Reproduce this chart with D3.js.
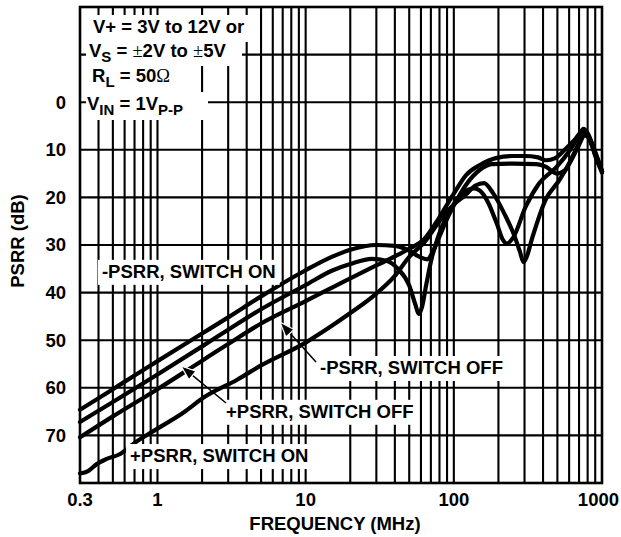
<!DOCTYPE html>
<html>
<head>
<meta charset="utf-8">
<script src="https://cdn.jsdelivr.net/npm/d3@7"></script>
<style>
  body { margin: 0; background: #fff; }
  svg text { font-family: "Liberation Sans", Arial, sans-serif; font-weight: bold; font-size: 18.5px; fill: #000; }
</style>
</head>
<body>
<svg id="chart" width="621" height="537"></svg>
<script>
// axis ticks
var FREQ_TICKS = [0.3, 1, 10, 100, 1000];
var FREQ_LABELS = ["0.3", "1", "10", "100", "1000"];
var PSRR_TICKS = [0, 10, 20, 30, 40, 50, 60, 70];

// curves, [MHz, dB]
var MINUS_ON = [[0.3,64.6],[0.4,62.2],[0.5,60.3],[0.7,57.4],[1,54.4],[2,48.6],[3,45.2],[5,40.8],[10,35.3],[15,32.5],
  [20,31.0],[30,30.0],[40,30.2],[50,31.2],[58,32.4],[66,33.0],[72,31.5],[80,28.2],[90,24.5],[105,20.5],[120,17.5],
  [150,14.2],[180,13.0],[250,12.9],[360,13.0],[420,13.6],[494,15.0],[560,14.3],[630,11.5],[700,8.5],[760,6.8],
  [820,7.5],[900,11],[1000,14.8]];
var PLUS_OFF = [[0.3,67.2],[0.5,63.0],[1,57.2],[2,51.3],[3,47.8],[5,43.5],[10,38.4],[15,35.4],[20,34.0],[28,32.9],
  [35,33.3],[42,35.0],[50,38.5],[55,42.5],[58,44.5],[61,43],[65,38.5],[70,33.5],[80,27.5],[95,22.5],[110,19.7],
  [125,18.4],[137,18.1],[150,18.6],[170,21],[195,25.5],[215,29],[227,29.7],[252,28.4],[305,22],[376,17.1],
  [494,13.6],[607,10.1],[700,7],[750,5.6],[800,6.5],[900,10.5],[1000,14.5]];
var MINUS_OFF = [[0.3,70.4],[0.5,66],[1,60.3],[2,54.3],[3,50.8],[5,46.5],[10,41.8],[20,37.0],[30,34.3],[40,32.4],
  [50,30.8],[63,28.8],[77,25],[90,21.5],[100,19.2],[121,15.3],[150,13.2],[195,11.7],[250,11.3],[300,11.3],
  [370,11.6],[420,12.2],[480,11.8],[560,10],[650,8],[730,6.3],[780,6.5],[850,9],[930,12.5],[1000,14.5]];
var PLUS_ON = [[0.3,78.0],[0.34,77.5],[0.39,76.0],[0.45,75.0],[0.56,73.9],[0.7,71.6],[0.95,69],
  [1.5,65.2],[2.06,62],[3.45,58.3],[5,55.3],[10,50.5],[14.5,47.3],[20,44.3],[30,40.2],[40,36.5],[50,32.5],
  [63,29.5],[80,25],[100,21.5],[120,19.5],[140,17.5],[160,17.0],[183,19],[220,23.5],[252,27.5],[280,31.5],
  [295,33.6],[310,32.5],[339,28.4],[416,20.5],[512,16.5],[600,13],[700,9],[760,7],[810,7.4],[900,10.5],[1000,14.5]];

var CURVE_NAMES = ["-PSRR, SWITCH ON", "-PSRR, SWITCH OFF", "+PSRR, SWITCH OFF", "+PSRR, SWITCH ON"];

(function () {
  var LEFT = 80, RIGHT = 602, TOP = 7, BOTTOM = 483;

  var svg = d3.select("#chart");
  var x = d3.scaleLog().domain([0.3, 1000]).range([LEFT, RIGHT]);
  var y = d3.scaleLinear().domain([-20, 80]).range([TOP, BOTTOM]);

  // grid
  var vGrid = [];
  [0.1, 1, 10, 100].forEach(function (dec) {
    for (var m = 1; m <= 9; m++) {
      var v = +(dec * m).toPrecision(3);
      if (v > 0.3 && v < 1000) vGrid.push(v);
    }
  });
  var grid = svg.append("g").attr("stroke", "#000").attr("stroke-width", 2.1);
  grid.selectAll("line.v").data(vGrid).enter().append("line")
    .attr("x1", function (d) { return x(d); }).attr("x2", function (d) { return x(d); })
    .attr("y1", TOP).attr("y2", BOTTOM);
  grid.selectAll("line.h").data(d3.range(-10, 80, 10)).enter().append("line")
    .attr("x1", LEFT).attr("x2", RIGHT)
    .attr("y1", function (d) { return y(d); }).attr("y2", function (d) { return y(d); });

  // conditions box (each line masks the grid behind it)
  var boxes = [[86, 15, 254, 42], [86, 42, 242, 66], [86, 66, 180, 92], [86, 92, 208, 120]];
  svg.append("g").selectAll("rect").data(boxes).enter().append("rect")
    .attr("x", function (d) { return d[0]; }).attr("y", function (d) { return d[1]; })
    .attr("width", function (d) { return d[2] - d[0]; }).attr("height", function (d) { return d[3] - d[1]; })
    .attr("fill", "#fff");

  var cond = svg.append("g");
  cond.append("text").attr("x", 93).attr("y", 33).text("V+ = 3V to 12V or");
  var t2 = cond.append("text").attr("x", 89).attr("y", 57);
  t2.append("tspan").text("V");
  t2.append("tspan").attr("dy", 5).attr("font-size", 15).text("S");
  t2.append("tspan").attr("dy", -5).text(" = ");
  t2.append("tspan").attr("font-family", "Liberation Serif").attr("font-weight", "normal").text("\u00b1");
  t2.append("tspan").text("2V to ");
  t2.append("tspan").attr("font-family", "Liberation Serif").attr("font-weight", "normal").text("\u00b1");
  t2.append("tspan").text("5V");
  var t3 = cond.append("text").attr("x", 92).attr("y", 82);
  t3.append("tspan").text("R");
  t3.append("tspan").attr("dy", 5).attr("font-size", 15).text("L");
  t3.append("tspan").attr("dy", -5).text(" = 50");
  t3.append("tspan").attr("font-family", "Liberation Serif").attr("font-weight", "normal").text("\u03a9");
  var t4 = cond.append("text").attr("x", 87).attr("y", 110);
  t4.append("tspan").text("V");
  t4.append("tspan").attr("dy", 5).attr("font-size", 15).text("IN");
  t4.append("tspan").attr("dy", -5).text(" = 1V");
  t4.append("tspan").attr("dy", 5).attr("font-size", 15).text("P-P");

  // curves
  var line = d3.line()
    .x(function (d) { return x(d[0]); })
    .y(function (d) { return y(d[1]); })
    .curve(d3.curveMonotoneX);
  svg.append("g").selectAll("path").data([PLUS_ON, MINUS_OFF, PLUS_OFF, MINUS_ON]).enter().append("path")
    .attr("d", line).attr("fill", "none").attr("stroke", "#000")
    .attr("stroke-width", 4.2).attr("stroke-linejoin", "round").attr("stroke-linecap", "round");

  // curve labels, anchored in data units
  var anchors = [[0.422, 36.9], [12.5, 57.1], [2.9, 66.3], [0.653, 75.6]];
  var lab = svg.append("g");
  CURVE_NAMES.forEach(function (name, i) {
    var g = lab.append("g");
    var bg = g.append("rect").attr("fill", "#fff");
    var t = g.append("text").attr("x", x(anchors[i][0])).attr("y", y(anchors[i][1])).text(name);
    var bb = t.node().getBBox();
    bg.attr("x", bb.x - 4).attr("y", bb.y - 1).attr("width", bb.width + 8).attr("height", bb.height + 4);
  });

  // arrows: [tail, tip]
  var arrows = [[[11.75, 54.6], [6.71, 46.2]], [[2.9, 63.2], [1.44, 55.4]]];
  arrows.forEach(function (a) {
    var x0 = x(a[0][0]), y0 = y(a[0][1]), x1 = x(a[1][0]), y1 = y(a[1][1]);
    var ang = Math.atan2(y1 - y0, x1 - x0), L = 15, W = 5.5;
    var bx = x1 - L * Math.cos(ang), by = y1 - L * Math.sin(ang);
    svg.append("line").attr("x1", x0).attr("y1", y0).attr("x2", bx).attr("y2", by)
      .attr("stroke", "#000").attr("stroke-width", 1.5);
    svg.append("polygon").attr("fill", "#000").attr("stroke", "#fff").attr("stroke-width", 1.2)
      .attr("points", [[x1, y1],
        [bx + W * Math.sin(ang), by - W * Math.cos(ang)],
        [bx - W * Math.sin(ang), by + W * Math.cos(ang)]].map(function (p) { return p.join(","); }).join(" "));
  });

  // frame
  svg.append("rect").attr("x", LEFT).attr("y", TOP).attr("width", RIGHT - LEFT).attr("height", BOTTOM - TOP)
    .attr("fill", "none").attr("stroke", "#000").attr("stroke-width", 2.6);

  // tick labels (last one kept inside the page edge)
  svg.append("g").selectAll("text").data(FREQ_TICKS).enter().append("text")
    .attr("x", function (d, i) { return i === FREQ_TICKS.length - 1 ? 619 : x(d); }).attr("y", 506)
    .attr("text-anchor", function (d, i) { return i === FREQ_TICKS.length - 1 ? "end" : "middle"; })
    .text(function (d, i) { return FREQ_LABELS[i]; });
  svg.append("g").selectAll("text").data(PSRR_TICKS).enter().append("text")
    .attr("x", 66).attr("y", function (d) { return y(d); }).attr("dy", "0.35em").attr("text-anchor", "end")
    .text(function (d) { return d; });

  // axis titles
  svg.append("text").attr("x", 335).attr("y", 530).attr("text-anchor", "middle").text("FREQUENCY (MHz)");
  svg.append("text").attr("transform", "translate(24,241) rotate(-90)").attr("text-anchor", "middle").text("PSRR (dB)");
}());
</script>
</body>
</html>
